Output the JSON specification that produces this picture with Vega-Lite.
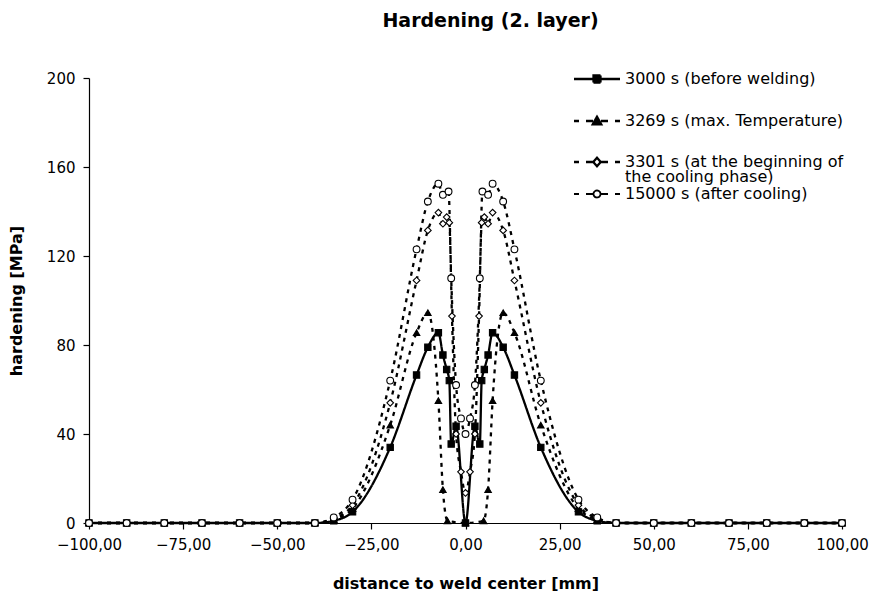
{
  "$schema": "https://vega.github.io/schema/vega-lite/v6.json",
  "width": 753,
  "height": 445,
  "autosize": {"type": "none"},
  "padding": {"left": 89, "top": 78, "right": 34, "bottom": 76},
  "background": "white",
  "config": {
    "view": {"stroke": null},
    "font": "DejaVu Sans",
    "axis": {
      "domainColor": "black",
      "domainWidth": 1.2,
      "tickColor": "black",
      "tickWidth": 1.2,
      "tickSize": 6,
      "grid": false,
      "labelColor": "black",
      "labelFont": "DejaVu Sans",
      "labelFontSize": 15,
      "labelFlush": false,
      "labelOverlap": false,
      "titleColor": "black",
      "titleFont": "DejaVu Sans",
      "titleFontSize": 16,
      "titleFontWeight": "bold"
    },
    "legend": {
      "orient": "none",
      "title": null,
      "padding": 0,
      "symbolSize": 100,
      "symbolOffset": 17,
      "labelOffset": 20,
      "labelFont": "DejaVu Sans",
      "labelFontSize": 16,
      "labelColor": "black",
      "labelLimit": 500,
      "rowPadding": 24
    }
  },
  "title": {
    "text": "Hardening (2. layer)",
    "frame": "group",
    "anchor": "middle",
    "dx": 25,
    "baseline": "alphabetic",
    "offset": 25,
    "font": "DejaVu Sans",
    "fontSize": 19,
    "fontWeight": "bold",
    "color": "black"
  },
  "data": {
    "values": [
      {"s": "3000 s (before welding)", "x": -100, "y": 0},
      {"s": "3000 s (before welding)", "x": -90, "y": 0},
      {"s": "3000 s (before welding)", "x": -80, "y": 0},
      {"s": "3000 s (before welding)", "x": -70, "y": 0},
      {"s": "3000 s (before welding)", "x": -60, "y": 0},
      {"s": "3000 s (before welding)", "x": -50, "y": 0},
      {"s": "3000 s (before welding)", "x": -40, "y": 0},
      {"s": "3000 s (before welding)", "x": -35, "y": 1},
      {"s": "3000 s (before welding)", "x": -30, "y": 5},
      {"s": "3000 s (before welding)", "x": -20, "y": 34},
      {"s": "3000 s (before welding)", "x": -13, "y": 66.5},
      {"s": "3000 s (before welding)", "x": -10, "y": 79},
      {"s": "3000 s (before welding)", "x": -7.2, "y": 85.5},
      {"s": "3000 s (before welding)", "x": -6, "y": 75.5},
      {"s": "3000 s (before welding)", "x": -5, "y": 69},
      {"s": "3000 s (before welding)", "x": -4.3, "y": 64},
      {"s": "3000 s (before welding)", "x": -3.8, "y": 35.5},
      {"s": "3000 s (before welding)", "x": -2.5, "y": 43.5},
      {"s": "3000 s (before welding)", "x": 0, "y": 0},
      {"s": "3000 s (before welding)", "x": 2.5, "y": 43.5},
      {"s": "3000 s (before welding)", "x": 3.8, "y": 35.5},
      {"s": "3000 s (before welding)", "x": 4.3, "y": 64},
      {"s": "3000 s (before welding)", "x": 5, "y": 69},
      {"s": "3000 s (before welding)", "x": 6, "y": 75.5},
      {"s": "3000 s (before welding)", "x": 7.2, "y": 85.5},
      {"s": "3000 s (before welding)", "x": 10, "y": 79},
      {"s": "3000 s (before welding)", "x": 13, "y": 66.5},
      {"s": "3000 s (before welding)", "x": 20, "y": 34},
      {"s": "3000 s (before welding)", "x": 30, "y": 5},
      {"s": "3000 s (before welding)", "x": 35, "y": 1},
      {"s": "3000 s (before welding)", "x": 40, "y": 0},
      {"s": "3000 s (before welding)", "x": 50, "y": 0},
      {"s": "3000 s (before welding)", "x": 60, "y": 0},
      {"s": "3000 s (before welding)", "x": 70, "y": 0},
      {"s": "3000 s (before welding)", "x": 80, "y": 0},
      {"s": "3000 s (before welding)", "x": 90, "y": 0},
      {"s": "3000 s (before welding)", "x": 100, "y": 0},

      {"s": "3269 s (max. Temperature)", "x": -100, "y": 0},
      {"s": "3269 s (max. Temperature)", "x": -90, "y": 0},
      {"s": "3269 s (max. Temperature)", "x": -80, "y": 0},
      {"s": "3269 s (max. Temperature)", "x": -70, "y": 0},
      {"s": "3269 s (max. Temperature)", "x": -60, "y": 0},
      {"s": "3269 s (max. Temperature)", "x": -50, "y": 0},
      {"s": "3269 s (max. Temperature)", "x": -40, "y": 0},
      {"s": "3269 s (max. Temperature)", "x": -35, "y": 1.5},
      {"s": "3269 s (max. Temperature)", "x": -30, "y": 6.5},
      {"s": "3269 s (max. Temperature)", "x": -20, "y": 44},
      {"s": "3269 s (max. Temperature)", "x": -13, "y": 85.5},
      {"s": "3269 s (max. Temperature)", "x": -10, "y": 94.5},
      {"s": "3269 s (max. Temperature)", "x": -7.2, "y": 55},
      {"s": "3269 s (max. Temperature)", "x": -6, "y": 15},
      {"s": "3269 s (max. Temperature)", "x": -4.8, "y": 1},
      {"s": "3269 s (max. Temperature)", "x": 0, "y": 0},
      {"s": "3269 s (max. Temperature)", "x": 4.8, "y": 1},
      {"s": "3269 s (max. Temperature)", "x": 6, "y": 15},
      {"s": "3269 s (max. Temperature)", "x": 7.2, "y": 55},
      {"s": "3269 s (max. Temperature)", "x": 10, "y": 94.5},
      {"s": "3269 s (max. Temperature)", "x": 13, "y": 85.5},
      {"s": "3269 s (max. Temperature)", "x": 20, "y": 44},
      {"s": "3269 s (max. Temperature)", "x": 30, "y": 6.5},
      {"s": "3269 s (max. Temperature)", "x": 35, "y": 1.5},
      {"s": "3269 s (max. Temperature)", "x": 40, "y": 0},
      {"s": "3269 s (max. Temperature)", "x": 50, "y": 0},
      {"s": "3269 s (max. Temperature)", "x": 60, "y": 0},
      {"s": "3269 s (max. Temperature)", "x": 70, "y": 0},
      {"s": "3269 s (max. Temperature)", "x": 80, "y": 0},
      {"s": "3269 s (max. Temperature)", "x": 90, "y": 0},
      {"s": "3269 s (max. Temperature)", "x": 100, "y": 0},

      {"s": "3301 s (at the beginning of the cooling phase)", "x": -100, "y": 0},
      {"s": "3301 s (at the beginning of the cooling phase)", "x": -90, "y": 0},
      {"s": "3301 s (at the beginning of the cooling phase)", "x": -80, "y": 0},
      {"s": "3301 s (at the beginning of the cooling phase)", "x": -70, "y": 0},
      {"s": "3301 s (at the beginning of the cooling phase)", "x": -60, "y": 0},
      {"s": "3301 s (at the beginning of the cooling phase)", "x": -50, "y": 0},
      {"s": "3301 s (at the beginning of the cooling phase)", "x": -40, "y": 0},
      {"s": "3301 s (at the beginning of the cooling phase)", "x": -35, "y": 2},
      {"s": "3301 s (at the beginning of the cooling phase)", "x": -30, "y": 8},
      {"s": "3301 s (at the beginning of the cooling phase)", "x": -20, "y": 54},
      {"s": "3301 s (at the beginning of the cooling phase)", "x": -13, "y": 109},
      {"s": "3301 s (at the beginning of the cooling phase)", "x": -10, "y": 131.5},
      {"s": "3301 s (at the beginning of the cooling phase)", "x": -7.2, "y": 139.5},
      {"s": "3301 s (at the beginning of the cooling phase)", "x": -6, "y": 134.5},
      {"s": "3301 s (at the beginning of the cooling phase)", "x": -5, "y": 137.5},
      {"s": "3301 s (at the beginning of the cooling phase)", "x": -4.3, "y": 135},
      {"s": "3301 s (at the beginning of the cooling phase)", "x": -3.6, "y": 93},
      {"s": "3301 s (at the beginning of the cooling phase)", "x": -2.5, "y": 40},
      {"s": "3301 s (at the beginning of the cooling phase)", "x": -1.2, "y": 23},
      {"s": "3301 s (at the beginning of the cooling phase)", "x": 0, "y": 13.5},
      {"s": "3301 s (at the beginning of the cooling phase)", "x": 1.2, "y": 23},
      {"s": "3301 s (at the beginning of the cooling phase)", "x": 2.5, "y": 40},
      {"s": "3301 s (at the beginning of the cooling phase)", "x": 3.6, "y": 93},
      {"s": "3301 s (at the beginning of the cooling phase)", "x": 4.3, "y": 135},
      {"s": "3301 s (at the beginning of the cooling phase)", "x": 5, "y": 137.5},
      {"s": "3301 s (at the beginning of the cooling phase)", "x": 6, "y": 134.5},
      {"s": "3301 s (at the beginning of the cooling phase)", "x": 7.2, "y": 139.5},
      {"s": "3301 s (at the beginning of the cooling phase)", "x": 10, "y": 131.5},
      {"s": "3301 s (at the beginning of the cooling phase)", "x": 13, "y": 109},
      {"s": "3301 s (at the beginning of the cooling phase)", "x": 20, "y": 54},
      {"s": "3301 s (at the beginning of the cooling phase)", "x": 30, "y": 8},
      {"s": "3301 s (at the beginning of the cooling phase)", "x": 35, "y": 2},
      {"s": "3301 s (at the beginning of the cooling phase)", "x": 40, "y": 0},
      {"s": "3301 s (at the beginning of the cooling phase)", "x": 50, "y": 0},
      {"s": "3301 s (at the beginning of the cooling phase)", "x": 60, "y": 0},
      {"s": "3301 s (at the beginning of the cooling phase)", "x": 70, "y": 0},
      {"s": "3301 s (at the beginning of the cooling phase)", "x": 80, "y": 0},
      {"s": "3301 s (at the beginning of the cooling phase)", "x": 90, "y": 0},
      {"s": "3301 s (at the beginning of the cooling phase)", "x": 100, "y": 0},

      {"s": "15000 s (after cooling)", "x": -100, "y": 0},
      {"s": "15000 s (after cooling)", "x": -90, "y": 0},
      {"s": "15000 s (after cooling)", "x": -80, "y": 0},
      {"s": "15000 s (after cooling)", "x": -70, "y": 0},
      {"s": "15000 s (after cooling)", "x": -60, "y": 0},
      {"s": "15000 s (after cooling)", "x": -50, "y": 0},
      {"s": "15000 s (after cooling)", "x": -40, "y": 0},
      {"s": "15000 s (after cooling)", "x": -35, "y": 2.5},
      {"s": "15000 s (after cooling)", "x": -30, "y": 10.5},
      {"s": "15000 s (after cooling)", "x": -20, "y": 64},
      {"s": "15000 s (after cooling)", "x": -13, "y": 123},
      {"s": "15000 s (after cooling)", "x": -10, "y": 144.5},
      {"s": "15000 s (after cooling)", "x": -7.2, "y": 152.5},
      {"s": "15000 s (after cooling)", "x": -6, "y": 147.5},
      {"s": "15000 s (after cooling)", "x": -4.5, "y": 149},
      {"s": "15000 s (after cooling)", "x": -3.8, "y": 110},
      {"s": "15000 s (after cooling)", "x": -2.5, "y": 62},
      {"s": "15000 s (after cooling)", "x": -1.2, "y": 47},
      {"s": "15000 s (after cooling)", "x": 0, "y": 40},
      {"s": "15000 s (after cooling)", "x": 1.2, "y": 47},
      {"s": "15000 s (after cooling)", "x": 2.5, "y": 62},
      {"s": "15000 s (after cooling)", "x": 3.8, "y": 110},
      {"s": "15000 s (after cooling)", "x": 4.5, "y": 149},
      {"s": "15000 s (after cooling)", "x": 6, "y": 147.5},
      {"s": "15000 s (after cooling)", "x": 7.2, "y": 152.5},
      {"s": "15000 s (after cooling)", "x": 10, "y": 144.5},
      {"s": "15000 s (after cooling)", "x": 13, "y": 123},
      {"s": "15000 s (after cooling)", "x": 20, "y": 64},
      {"s": "15000 s (after cooling)", "x": 30, "y": 10.5},
      {"s": "15000 s (after cooling)", "x": 35, "y": 2.5},
      {"s": "15000 s (after cooling)", "x": 40, "y": 0},
      {"s": "15000 s (after cooling)", "x": 50, "y": 0},
      {"s": "15000 s (after cooling)", "x": 60, "y": 0},
      {"s": "15000 s (after cooling)", "x": 70, "y": 0},
      {"s": "15000 s (after cooling)", "x": 80, "y": 0},
      {"s": "15000 s (after cooling)", "x": 90, "y": 0},
      {"s": "15000 s (after cooling)", "x": 100, "y": 0}
    ]
  },
  "encoding": {
    "x": {
      "field": "x",
      "type": "quantitative",
      "scale": {"domain": [-100, 100], "nice": false, "zero": false},
      "axis": {
        "title": "distance to weld center [mm]",
        "values": [-100, -75, -50, -25, 0, 25, 50, 75, 100],
        "labelExpr": "replace(format(datum.value, '.2f'), '.', ',')",
        "labelPadding": 8,
        "titlePadding": 23
      }
    },
    "y": {
      "field": "y",
      "type": "quantitative",
      "scale": {"domain": [0, 200], "nice": false},
      "axis": {
        "title": "hardening [MPa]",
        "values": [0, 40, 80, 120, 160, 200],
        "labelPadding": 8,
        "titlePadding": 22
      }
    }
  },
  "layer": [
    {
      "mark": {"type": "line", "color": "black", "interpolate": "monotone"},
      "encoding": {
        "detail": {"field": "s"},
        "strokeDash": {
          "field": "s",
          "scale": {
            "domain": ["3301 s (at the beginning of the cooling phase)", "15000 s (after cooling)", "3000 s (before welding)", "3269 s (max. Temperature)"],
            "range": [[4, 5], [4, 5], [1, 0], [4, 5]]
          },
          "legend": null
        },
        "strokeWidth": {
          "field": "s",
          "scale": {
            "domain": ["3269 s (max. Temperature)", "3301 s (at the beginning of the cooling phase)", "15000 s (after cooling)", "3000 s (before welding)"],
            "range": [2.3, 2.3, 2.3, 1.7]
          },
          "legend": {
            "orient": "none",
            "legendX": 483,
            "legendY": -7,
            "values": ["3000 s (before welding)", "3269 s (max. Temperature)", "3301 s (at the beginning of the cooling phase)"],
            "labelExpr": "datum.label == '3301 s (at the beginning of the cooling phase)' ? ['3301 s (at the beginning of', 'the cooling phase)'] : datum.label",
            "encoding": {
              "labels": {
                "lineHeight": {"value": 15}
              },
              "symbols": {
                "shape": {"value": {"expr": "datum.value == '3000 s (before welding)' ? 'M-4.6,0H4.6M-0.7,-0.7H0.7V0.7H-0.7Z' : datum.value == '3269 s (max. Temperature)' ? 'M-4.6,0H-3.6M-2.2,0H-0.8M0.8,0H2.2M3.6,0H4.6M0,-0.85L0.85,0.65H-0.85Z' : 'M-4.6,0H-3.6M-2.2,0H-0.8M0.8,0H2.2M3.6,0H4.6M0,-0.85L0.75,0L0,0.85L-0.75,0Z'"}},
                "fill": {"value": {"expr": "datum.value == '3301 s (at the beginning of the cooling phase)' ? 'white' : 'black'"}},
                "stroke": {"value": "black"},
                "strokeDash": {"value": [1, 0]},
                "opacity": {"value": 1}
              }
            }
          }
        }
      }
    },
    {
      "mark": {"type": "point", "filled": true, "stroke": "black", "strokeWidth": 1.1, "opacity": 1},
      "encoding": {
        "shape": {
          "field": "s",
          "scale": {
            "domain": ["3000 s (before welding)", "3269 s (max. Temperature)", "3301 s (at the beginning of the cooling phase)", "15000 s (after cooling)"],
            "range": ["square", "triangle-up", "diamond", "circle"]
          },
          "legend": null
        },
        "size": {
          "field": "s",
          "scale": {
            "domain": ["3000 s (before welding)", "3269 s (max. Temperature)", "3301 s (at the beginning of the cooling phase)", "15000 s (after cooling)"],
            "range": [40, 46, 60, 42]
          },
          "legend": null
        },
        "fill": {
          "field": "s",
          "scale": {
            "domain": ["15000 s (after cooling)", "3000 s (before welding)", "3269 s (max. Temperature)", "3301 s (at the beginning of the cooling phase)"],
            "range": ["white", "black", "black", "white"]
          },
          "legend": {
            "orient": "none",
            "legendX": 483,
            "legendY": 108,
            "values": ["15000 s (after cooling)"],
            "encoding": {
              "symbols": {
                "shape": {"value": "M-4.6,0H-3.6M-2.2,0H-0.8M0.8,0H2.2M3.6,0H4.6M0.7,0A0.7,0.7,0,1,1,-0.7,0A0.7,0.7,0,1,1,0.7,0Z"},
                "fill": {"value": "white"},
                "stroke": {"value": "black"},
                "strokeWidth": {"value": 1.8},
                "strokeDash": {"value": [1, 0]},
                "opacity": {"value": 1}
              }
            }
          }
        }
      }
    }
  ]
}
